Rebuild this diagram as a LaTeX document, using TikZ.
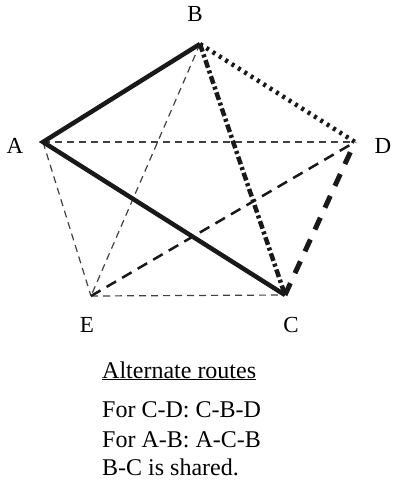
\documentclass[tikz,border=0pt]{standalone}
\usepackage{fontspec}
\setmainfont{Liberation Serif}
\begin{document}
\begin{tikzpicture}[x=1pt,y=-1pt,
  lbl/.style={font=\fontsize{23}{28}\selectfont, inner sep=0pt},
  txt/.style={font=\fontsize{24}{28}\selectfont, inner sep=0pt, anchor=base west},
  thinedge/.style={line width=1.2pt, draw=black!75, dash pattern=on 7pt off 5pt},
  midedge/.style={line width=2.5pt, draw=black!90, dash pattern=on 11pt off 7pt},
  routeA/.style={line width=4.5pt, draw=black!90},
  routeD/.style={line width=4.5pt, draw=black!90, dash pattern=on 3pt off 4.5pt},
  routeC/.style={line width=5pt, draw=black!90, dash pattern=on 13pt off 11pt},
  shared/.style={line width=4.5pt, draw=black!90, dash pattern=on 8pt off 3pt on 3pt off 3pt}
]
\useasboundingbox (0,0) rectangle (392,495);
\coordinate (A) at (43,142);
\coordinate (B) at (200,44);
\coordinate (D) at (355,142);
\coordinate (C) at (285,295);
\coordinate (E) at (91,296);
% labels
\node[lbl] (lB) at (195,14) {B};
\node[lbl] (lA) at (15,146) {A};
\node[lbl] (lD) at (383,146) {D};
\node[lbl] (lE) at (87,325) {E};
\node[lbl] (lC) at (291,325) {C};
% thin dashed edges
\draw[thinedge] (A) -- (D);
\draw[thinedge] (A) -- (E);
\draw[thinedge] (B) -- (E);
\draw[thinedge] (E) -- (C);
\draw[midedge] (E) -- (D);
% routes
\draw[routeD] (B) -- (D);
\draw[routeC] (C) -- (D);
\draw[shared] (B) -- (C);
\draw[routeA] (B) -- (A) -- (C);
% text
\node[txt] (t1) at (102,378) {\underline{Alternate routes}};
\node[txt] (t2) at (102,417) {For C-D: C-B-D};
\node[txt] (t3) at (102,447) {For A-B: A-C-B};
\node[txt] (t4) at (102,475) {B-C is shared.};
\end{tikzpicture}
\end{document}
